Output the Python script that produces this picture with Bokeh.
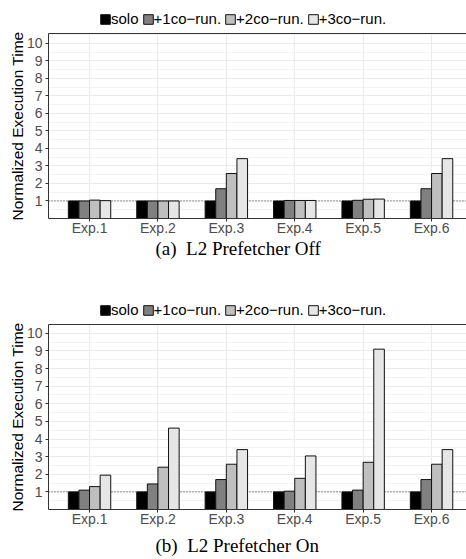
from bokeh.plotting import figure
from bokeh.models import (ColumnDataSource, Range1d, FixedTicker, LinearAxis, Legend,
                          LegendItem, Span, Title)
from bokeh.layouts import column
from bokeh.transform import dodge
from bokeh.embed import file_html
from bokeh.resources import INLINE

experiments = ["Exp.1", "Exp.2", "Exp.3", "Exp.4", "Exp.5", "Exp.6"]
series = ["solo", "+1co\u2212run.", "+2co\u2212run.", "+3co\u2212run."]
colors = ["#000000", "#808080", "#bfbfbf", "#e6e6e6"]
y_ticks = [1, 2, 3, 4, 5, 6, 7, 8, 9, 10]

# (a) L2 Prefetcher Off
off_solo = [1.0, 1.0, 1.0, 1.0, 1.0, 1.0]
off_co1 = [1.0, 1.0, 1.70, 1.03, 1.04, 1.70]
off_co2 = [1.05, 1.0, 2.57, 1.03, 1.10, 2.57]
off_co3 = [1.02, 1.0, 3.42, 1.03, 1.11, 3.42]

# (b) L2 Prefetcher On
on_solo = [1.0, 1.0, 1.0, 1.0, 1.0, 1.0]
on_co1 = [1.10, 1.45, 1.70, 1.04, 1.10, 1.70]
on_co2 = [1.30, 2.40, 2.57, 1.77, 2.68, 2.57]
on_co3 = [1.95, 4.62, 3.40, 3.04, 9.10, 3.40]

SANS = "Liberation Sans"
SERIF = "Liberation Serif"


def make_legend(height, vy):
    pl = figure(width=466, height=height, output_backend="svg", toolbar_location=None,
                x_range=Range1d(0, 1), y_range=Range1d(0, 1),
                x_axis_location=None, y_axis_location=None, min_border=0)
    pl.outline_line_color = None
    pl.grid.visible = False
    pl.background_fill_color = "white"
    pl.border_fill_color = "white"
    rs = []
    for i in range(4):
        # placeholder bar kept outside the visible range: only its legend swatch shows
        src = ColumnDataSource({"x": [-5.0], "top": [0.0]})
        rs.append(pl.vbar(x="x", top="top", bottom=0, width=0.1, source=src,
                          fill_color=colors[i], line_color="#111111", line_width=1))
    legend = Legend(items=[LegendItem(label=series[i], renderers=[rs[i]]) for i in range(4)],
                    orientation="horizontal", location=(51, vy),
                    glyph_width=12, glyph_height=12, label_height=10, label_width=10,
                    label_standoff=0, spacing=3, padding=0, margin=0,
                    border_line_color=None, background_fill_alpha=0,
                    label_text_font=SANS, label_text_font_size="15px",
                    label_text_color="black")
    pl.add_layout(legend)
    return pl


def make_panel(vals, caption, height, border_bottom, ytop, cap_standoff):
    xpos = list(range(1, len(experiments) + 1))
    data = {"x": xpos}
    for i, v in enumerate(vals):
        data["s%d" % i] = v
    src = ColumnDataSource(data)

    p = figure(width=466, height=height, output_backend="svg", toolbar_location=None,
               x_range=Range1d(0.4, 6.511), y_range=Range1d(0, ytop),
               min_border_left=48, min_border_right=0,
               min_border_top=6, min_border_bottom=border_bottom)
    p.outline_line_color = None
    p.background_fill_color = "white"
    p.border_fill_color = "white"

    # grids
    p.ygrid.ticker = FixedTicker(ticks=[0] + y_ticks,
                                 minor_ticks=[k + 0.5 for k in range(0, 11)])
    p.ygrid.grid_line_color = "#ebebeb"
    p.ygrid.grid_line_width = 1.1
    p.ygrid.minor_grid_line_color = "#ebebeb"
    p.ygrid.minor_grid_line_width = 0.6
    p.xgrid.ticker = FixedTicker(ticks=xpos)
    p.xgrid.grid_line_color = "#ebebeb"
    p.xgrid.grid_line_width = 1.1

    # reference line at 1
    p.add_layout(Span(location=1, dimension="width", line_color="#333333",
                      line_width=1, line_dash="1 2", level="underlay"))

    bw = 0.155
    offs = [-1.5 * bw, -0.5 * bw, 0.5 * bw, 1.5 * bw]
    for i in range(4):
        p.vbar(x=dodge("x", offs[i], range=p.x_range), top="s%d" % i, bottom=0,
               width=bw, source=src, fill_color=colors[i], line_color="#111111",
               line_width=1)

    # axes
    p.xaxis.ticker = FixedTicker(ticks=xpos)
    p.xaxis.major_label_overrides = {k: lab for k, lab in zip(xpos, experiments)}
    p.yaxis.ticker = FixedTicker(ticks=y_ticks)
    for ax in (p.xaxis[0], p.yaxis[0]):
        ax.axis_line_color = "#333333"
        ax.axis_line_width = 1
        ax.major_tick_line_color = "#333333"
        ax.major_tick_out = 3
        ax.major_tick_in = 0
        ax.minor_tick_line_color = None
        ax.major_label_text_font = SANS
        ax.major_label_text_font_size = "14px"
        ax.major_label_text_color = "#4d4d4d"
    p.xaxis.major_label_standoff = -2
    p.yaxis.major_label_standoff = 3
    p.yaxis.axis_label = "Normalized Execution Time"
    p.yaxis.axis_label_text_font = SANS
    p.yaxis.axis_label_text_font_size = "15.5px"
    p.yaxis.axis_label_text_font_style = "normal"
    p.yaxis.axis_label_text_color = "black"
    p.yaxis.axis_label_standoff = -2

    top_ax = LinearAxis(ticker=FixedTicker(ticks=[]), axis_line_color="#333333",
                        major_tick_line_color=None, minor_tick_line_color=None,
                        major_tick_out=0, major_tick_in=0, major_label_standoff=0,
                        major_label_text_font_size="0px")
    p.add_layout(top_ax, "above")

    t = Title(text=caption, align="left", offset=107, text_font=SERIF,
              text_font_size="19px", text_font_style="normal", text_color="black",
              standoff=cap_standoff)
    p.add_layout(t, "below")
    return p


legA = make_legend(27, 0)
pa = make_panel([off_solo, off_co1, off_co2, off_co3], "(a)\u2002L2 Prefetcher Off",
                235, 44, 10.57, -5)
legB = make_legend(56, 0)
pb = make_panel([on_solo, on_co1, on_co2, on_co3], "(b)\u2002L2 Prefetcher On",
                241, 50, 10.5, 6)

layout = column(legA, pa, legB, pb, spacing=0)
open("out.html", "w").write(file_html(layout, INLINE))
